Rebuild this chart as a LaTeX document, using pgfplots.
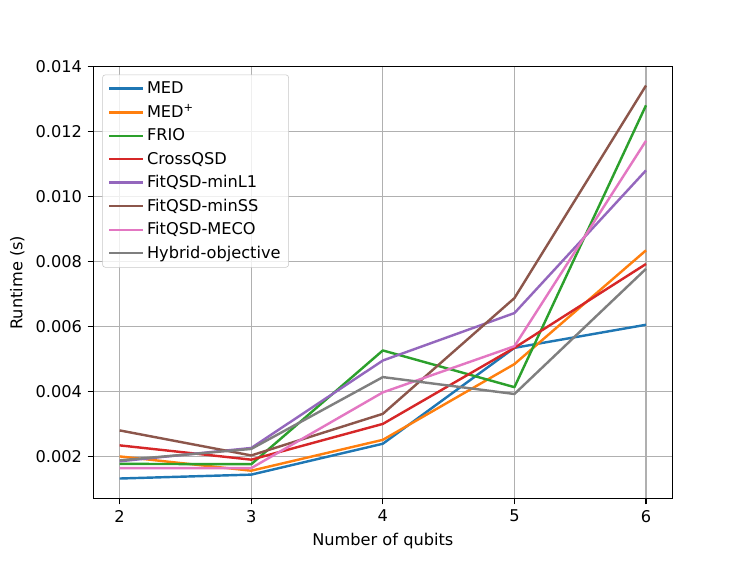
\documentclass[border=0pt]{standalone}
\usepackage{fontspec}
\setmainfont{DejaVu Sans}
\usepackage{pgfplots}
\pgfplotsset{compat=1.18}
\definecolor{tabblue}{HTML}{1F77B4}
\definecolor{taborange}{HTML}{FF7F0E}
\definecolor{tabgreen}{HTML}{2CA02C}
\definecolor{tabred}{HTML}{D62728}
\definecolor{tabpurple}{HTML}{9467BD}
\definecolor{tabbrown}{HTML}{8C564B}
\definecolor{tabpink}{HTML}{E377C2}
\definecolor{tabgray}{HTML}{7F7F7F}
\definecolor{gridgray}{HTML}{B0B0B0}
\begin{document}
\fontsize{12.15pt}{14.5pt}\selectfont
\begin{tikzpicture}
\begin{axis}[
  width=434.25pt, height=324pt, scale only axis,
  xmin=1.8, xmax=6.2, ymin=0.00071, ymax=0.014,
  xtick={2,3,4,5,6},
  ytick={0.002,0.004,0.006,0.008,0.010,0.012,0.014},
  scaled y ticks=false,
  yticklabel style={/pgf/number format/.cd, fixed, fixed zerofill, precision=3},
  /pgf/number format/assume math mode=true,
  ticklabel style={font=\fontsize{12.15pt}{14.5pt}\selectfont},
  grid=major, grid style={color=gridgray, line width=0.97pt},
  axis line style={line width=0.97pt},
  tick style={black, line width=0.97pt},
  tick align=outside, major tick length=4.25pt,
  xtick pos=lower, ytick pos=left,
  xlabel={Number of qubits}, ylabel={Runtime (s)},
  every axis plot/.append style={line width=1.82pt, line join=round},
  legend cell align=left,
  legend style={at={(0.0155,0.9815)}, anchor=north west,
    draw=gridgray!70, rounded corners=2pt, fill=white, fill opacity=0.8, text opacity=1,
    font=\fontsize{12.15pt}{14.5pt}\selectfont,
    row sep=2.6pt, inner xsep=4pt, inner ysep=3pt},
  legend image code/.code={\draw[#1] (0pt,0pt) -- (25.5pt,0pt);},
]
\addplot[tabblue] coordinates {(2,0.00133) (3,0.00145) (4,0.00240) (5,0.00535) (6,0.00606)};
\addlegendentry{MED}
\addplot[taborange] coordinates {(2,0.00201) (3,0.00157) (4,0.00252) (5,0.00485) (6,0.00835)};
\addlegendentry{MED\textsuperscript{+}}
\addplot[tabgreen] coordinates {(2,0.00178) (3,0.00177) (4,0.00527) (5,0.00414) (6,0.01281)};
\addlegendentry{FRIO}
\addplot[tabred] coordinates {(2,0.00235) (3,0.00191) (4,0.00301) (5,0.00535) (6,0.00793)};
\addlegendentry{CrossQSD}
\addplot[tabpurple] coordinates {(2,0.00186) (3,0.00227) (4,0.00496) (5,0.00642) (6,0.01081)};
\addlegendentry{FitQSD-minL1}
\addplot[tabbrown] coordinates {(2,0.00281) (3,0.00204) (4,0.00332) (5,0.00688) (6,0.01342)};
\addlegendentry{FitQSD-minSS}
\addplot[tabpink] coordinates {(2,0.00165) (3,0.00165) (4,0.00398) (5,0.00540) (6,0.01172)};
\addlegendentry{FitQSD-MECO}
\addplot[tabgray] coordinates {(2,0.00189) (3,0.00224) (4,0.00445) (5,0.00393) (6,0.00778)};
\addlegendentry{Hybrid-objective}
\end{axis}
\pgfresetboundingbox
\path ([shift={(-70pt,-46pt)}]current axis.south west) rectangle ([shift={(56pt,50pt)}]current axis.north east);
\end{tikzpicture}
\end{document}
